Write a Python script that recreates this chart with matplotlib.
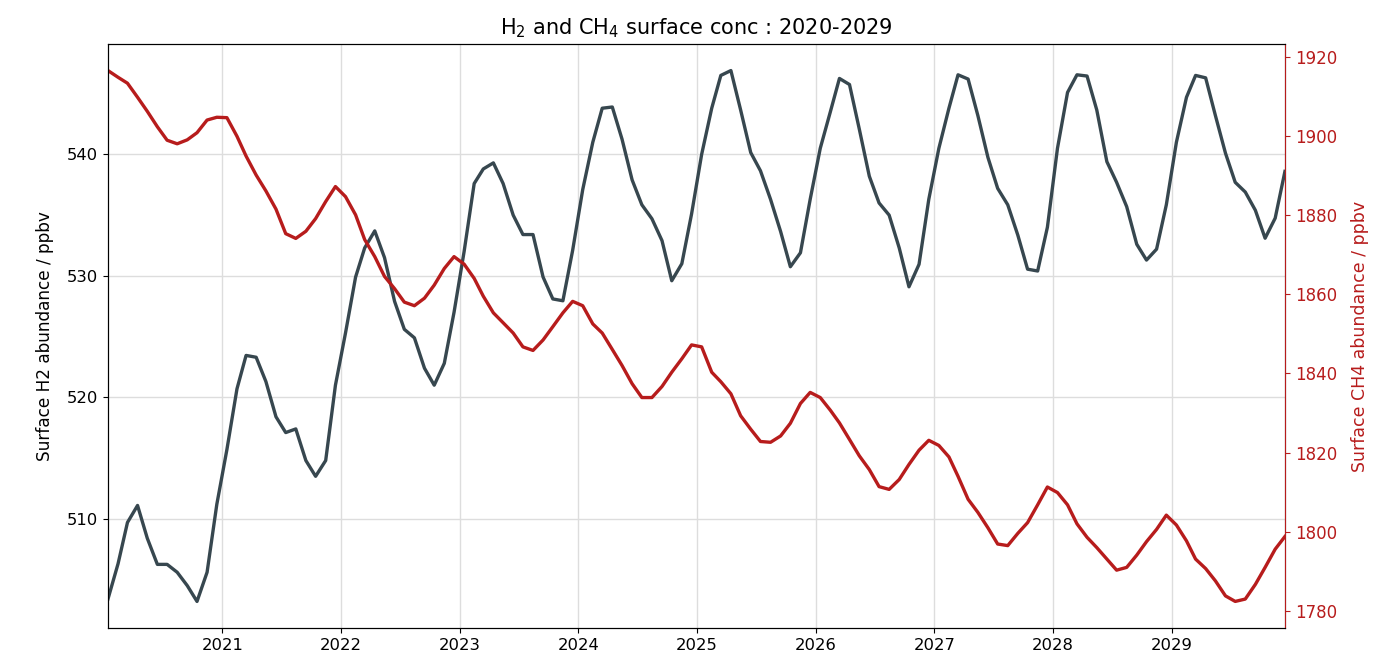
import numpy as np
import pandas as pd
import matplotlib
matplotlib.use("Agg")
import matplotlib.pyplot as plt
import matplotlib.dates as mdates


# Monthly mean surface concentrations, Jan 2020 - Dec 2029 (ppbv)
h2_ppbv = [
    503.4, 506.3, 509.7, 511.1, 508.4, 506.25, 506.25, 505.6, 504.5, 503.2, 505.6, 511.2,
    515.7, 520.7, 523.45, 523.3, 521.3, 518.4, 517.1, 517.4, 514.8, 513.5, 514.8, 521.0,
    525.3, 529.9, 532.3, 533.7, 531.5, 527.9, 525.6, 524.9, 522.4, 521.0, 522.8, 527.0,
    532.0, 537.6, 538.8, 539.3, 537.6, 535.0, 533.4, 533.4, 529.9, 528.1, 527.95, 532.1,
    537.1, 541.0, 543.8, 543.9, 541.25, 537.9, 535.85, 534.7, 532.9, 529.6, 531.0, 535.1,
    540.0, 543.8, 546.5, 546.9, 543.65, 540.15, 538.65, 536.3, 533.65, 530.75, 531.9, 536.3,
    540.5, 543.5, 546.25, 545.75, 542.1, 538.2, 536.0, 535.0, 532.3, 529.1, 530.95, 536.3,
    540.5, 543.8, 546.55, 546.2, 543.2, 539.75, 537.2, 535.85, 533.35, 530.55, 530.4, 534.0,
    540.5, 545.1, 546.55, 546.45, 543.65, 539.4, 537.7, 535.7, 532.6, 531.3, 532.2, 535.85,
    541.0, 544.7, 546.5, 546.3, 543.2, 540.1, 537.7, 536.9, 535.4, 533.1, 534.75, 538.6,
]

ch4_ppbv = [
    1916.5, 1914.8, 1913.3, 1909.75, 1906.2, 1902.3, 1898.9, 1898.0, 1899.0, 1900.8, 1904.0, 1904.7,
    1904.6, 1899.9, 1894.9, 1890.1, 1886.1, 1881.5, 1875.3, 1874.1, 1875.9, 1879.1, 1883.4, 1887.2,
    1884.65, 1880.05, 1873.8, 1869.5, 1864.5, 1861.4, 1858.0, 1857.1, 1859.0, 1862.3, 1866.5, 1869.5,
    1867.6, 1864.0, 1859.5, 1855.3, 1852.8, 1850.2, 1846.7, 1845.8, 1848.45, 1851.8, 1855.3, 1858.2,
    1857.1, 1852.5, 1850.2, 1846.05, 1842.0, 1837.4, 1833.9, 1833.9, 1836.7, 1840.3, 1843.7, 1847.2,
    1846.7, 1840.3, 1837.9, 1834.85, 1829.3, 1825.9, 1822.8, 1822.6, 1824.2, 1827.4, 1832.4, 1835.2,
    1833.9, 1830.7, 1827.5, 1823.3, 1819.2, 1815.7, 1811.4, 1810.7, 1813.2, 1817.0, 1820.6, 1823.1,
    1821.8, 1818.9, 1814.0, 1808.2, 1804.9, 1801.0, 1796.9, 1796.5, 1799.6, 1802.3, 1806.8, 1811.3,
    1809.9, 1806.8, 1802.0, 1798.6, 1796.0, 1793.1, 1790.3, 1791.0, 1794.1, 1797.5, 1800.6, 1804.2,
    1801.7, 1797.7, 1793.1, 1790.7, 1787.6, 1783.8, 1782.4, 1783.0, 1786.7, 1791.0, 1795.6, 1798.8,
]

# mid-month time stamps
dates = pd.date_range("2020-01-01", periods=len(h2_ppbv), freq="MS") + pd.Timedelta(days=14)

H2_COLOR = "#37474F"
CH4_COLOR = "#B71C1C"

fig = plt.figure(figsize=(13.95, 6.54), dpi=100)
ax = fig.add_axes([0.0774, 0.0398, 0.8437, 0.8929])

ax.plot(dates, h2_ppbv, color=H2_COLOR, lw=2.4, zorder=3)
ax.set_ylabel("Surface H2 abundance / ppbv", fontsize=12.2, labelpad=9)
ax.set_xlim(dates[0], dates[-1])
ax.xaxis.set_major_locator(mdates.YearLocator())
ax.xaxis.set_major_formatter(mdates.DateFormatter("%Y"))
ax.grid(True, color="#dddddd", lw=1.0)
ax.set_axisbelow(True)
ax.tick_params(labelsize=11.8)

ax2 = ax.twinx()
ax2.plot(dates, ch4_ppbv, color=CH4_COLOR, lw=2.4)
ax2.set_ylabel("Surface CH4 abundance / ppbv", fontsize=12.5, color=CH4_COLOR, labelpad=10)
ax2.tick_params(axis="y", colors=CH4_COLOR, labelsize=12)
ax2.spines["right"].set_color(CH4_COLOR)

ax.set_title(r"H$_2$ and CH$_4$ surface conc : 2020-2029", fontsize=15, pad=7)

fig.savefig("out.png", dpi=100)
